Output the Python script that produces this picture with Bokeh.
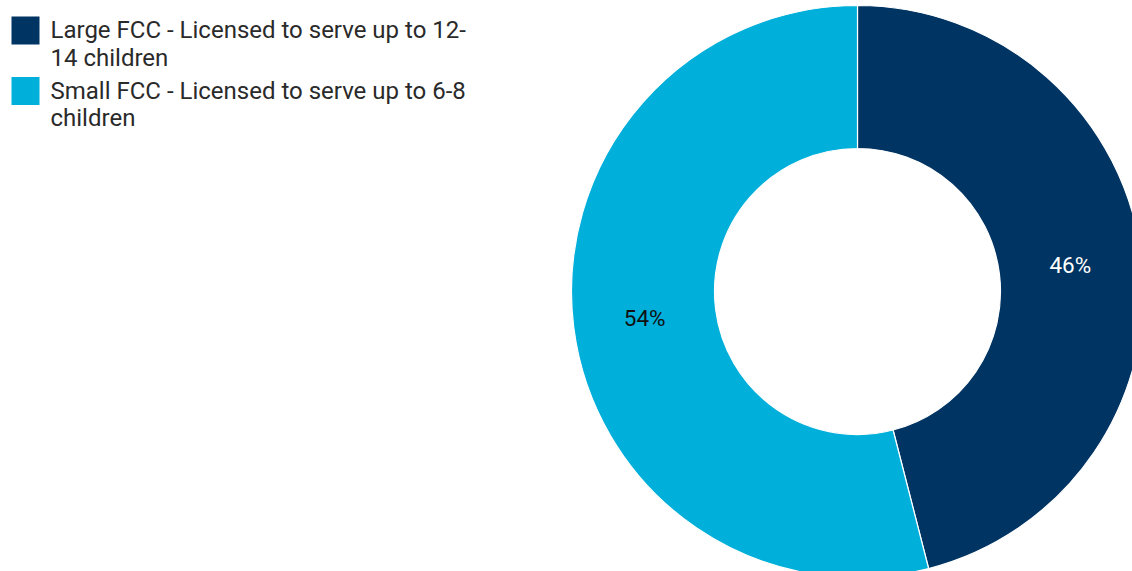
import math
from bokeh.plotting import figure
from bokeh.models import Range1d, ColumnDataSource
from bokeh.core.properties import value
from bokeh.embed import file_html
from bokeh.resources import INLINE

categories = ["Large FCC - Licensed to serve up to 12-14 children",
              "Small FCC - Licensed to serve up to 6-8 children"]
legend_lines = [["Large FCC - Licensed to serve up to 12-", "14 children"],
                ["Small FCC - Licensed to serve up to 6-8", "children"]]
shares = [46, 54]
colors = ["#003462", "#00AFDA"]
label_colors = ["#FFFFFF", "#111111"]

W, H = 1132, 571
p = figure(width=W, height=H, x_range=Range1d(0, W), y_range=Range1d(0, H),
           output_backend="svg", toolbar_location=None, min_border=0)
p.axis.visible = False
p.grid.visible = False
p.outline_line_color = None
p.background_fill_color = "white"
p.border_fill_color = "white"

cx, cy = 857, H - 291
r_out, r_in = 286, 143
total = sum(shares)

starts, ends, lx, ly = [], [], [], []
cum = 0.0
for s in shares:
    a0 = cum / total * 360.0
    a1 = (cum + s) / total * 360.0
    # clockwise from top -> bokeh angles (anticlockwise from +x)
    starts.append(math.radians(90 - a1))
    ends.append(math.radians(90 - a0))
    mid = math.radians((a0 + a1) / 2)
    rm = (r_out + r_in) / 2
    lx.append(cx + rm * math.sin(mid))
    ly.append(cy + rm * math.cos(mid))
    cum += s

src = ColumnDataSource(dict(start=starts, end=ends, color=colors,
                            lx=lx, ly=ly, txt=[f"{s}%" for s in shares],
                            tc=label_colors))
p.annular_wedge(x=cx, y=cy, inner_radius=r_in, outer_radius=r_out,
                start_angle="start", end_angle="end", fill_color="color",
                line_color="white", line_width=1.2, source=src)
p.text(x="lx", y="ly", text="txt", text_color="tc", source=src,
       text_align="center", text_baseline="middle",
       text_font=value("Roboto"), text_font_size="22.5px")

# legend
sq_y = [H - 30, H - 90.5]
line_y = [[H - 29.5, H - 57], [H - 90, H - 117]]
for i in range(len(categories)):
    p.rect(x=25, y=sq_y[i], width=28, height=28, fill_color=colors[i],
           line_color=None)
    for j, line in enumerate(legend_lines[i]):
        p.text(x=[50], y=[line_y[i][j]], text=[line], text_color="#2a2a2a",
               text_align="left", text_baseline="middle",
               text_font=value("Roboto"), text_font_size="24px")

open("out.html", "w").write(file_html(p, INLINE))
